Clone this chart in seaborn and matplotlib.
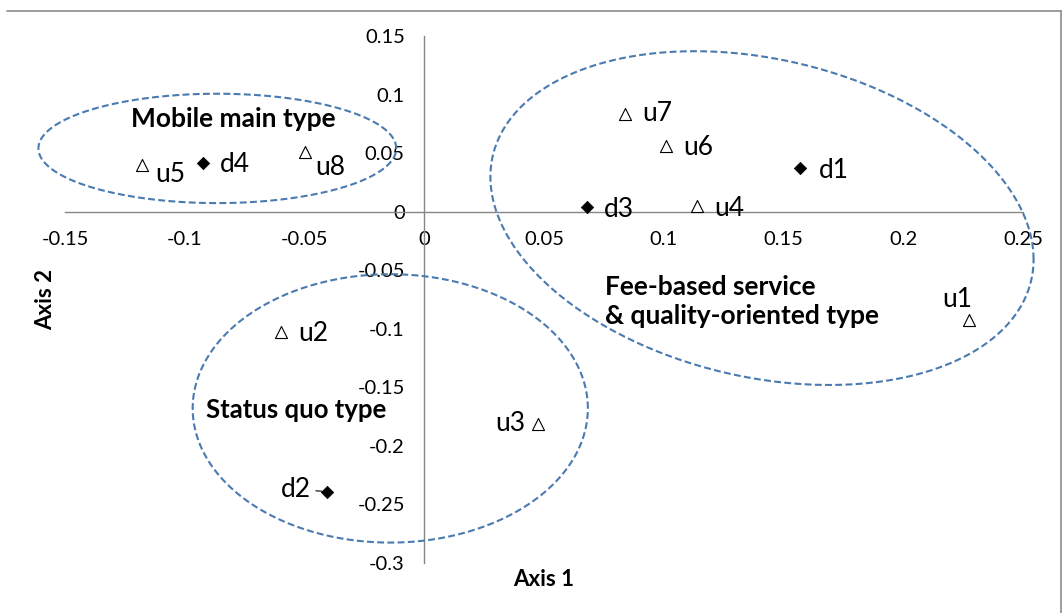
import numpy as np
import pandas as pd
import matplotlib.pyplot as plt
from matplotlib.lines import Line2D
import seaborn as sns

# ========================
# DATA
# ========================
point_names = ["u1", "u2", "u3", "u4", "u5", "u6", "u7", "u8",
               "d1", "d2", "d3", "d4"]
point_kind  = ["u"] * 8 + ["d"] * 4
axis1       = [0.2276, -0.0597, 0.0476, 0.114, -0.118, 0.101, 0.0839, -0.0497,
               0.157, -0.0405, 0.068, -0.0923]
axis2       = [-0.0928, -0.103, -0.181, 0.0048, 0.0396, 0.0557, 0.0838, 0.0507,
               0.0372, -0.239, 0.004, 0.0414]

x_ticks = [-0.15, -0.1, -0.05, 0, 0.05, 0.1, 0.15, 0.2, 0.25]
x_tick_labels = ["-0.15", "-0.1", "-0.05", "0", "0.05", "0.1", "0.15", "0.2", "0.25"]
y_ticks = [-0.3, -0.25, -0.2, -0.15, -0.1, -0.05, 0, 0.05, 0.1, 0.15]
y_tick_labels = ["-0.3", "-0.25", "-0.2", "-0.15", "-0.1", "-0.05", "0", "0.05", "0.1", "0.15"]

# cluster outlines: centre x, centre y, half width, half height, skew phase
group_names = ["Mobile main type", "Fee-based service\n& quality-oriented type", "Status quo type"]
group_cx    = [-0.0864, 0.141, -0.0142]
group_cy    = [0.054, -0.0055, -0.168]
group_rx    = [0.0747, 0.1134, 0.0825]
group_ry    = [0.0467, 0.1425, 0.1146]
group_phase = [0.0, -0.25, 0.0]
# where the group captions sit
caption_x   = [-0.0797, 0.0755, -0.0535]
caption_y   = [0.0795, -0.0767, -0.1690]
caption_ha  = ["center", "left", "center"]

# label placement per point (pixels) and alignment
label_dx = [-12, 17, -13, 17, 14, 17, 17, 10, 19, -16, 17, 17]
label_dy = [21, -1, 0, -2, -9, -1, 0, -15, -2, 2, -3, -1]
label_ha = ["center", "left", "right", "left", "left", "left", "left", "left",
            "left", "right", "left", "left"]

df = pd.DataFrame({"name": point_names, "kind": point_kind,
                   "axis1": axis1, "axis2": axis2})

# ========================
# STYLE
# ========================
sns.set_theme(style="white")
plt.rcParams["font.family"] = ["Lato", "DejaVu Sans"]
plt.rcParams["text.color"] = "black"

AXIS_GRAY = "#868686"
DASH_BLUE = "#4a7ab0"

fig = plt.figure(figsize=(10.64, 6.13), dpi=100)
ax = fig.add_axes([0.0611, 0.0816, 0.9004, 0.8597])

# ========================
# POINTS
# ========================
sns.scatterplot(data=df[df.kind == "u"], x="axis1", y="axis2", marker="^",
                s=75, color="white", edgecolor="black", linewidth=0.8,
                ax=ax, zorder=4, clip_on=False)
sns.scatterplot(data=df[df.kind == "d"], x="axis1", y="axis2", marker="D",
                s=40, color="black", edgecolor="black", linewidth=0.5,
                ax=ax, zorder=4, clip_on=False)

for i, name in enumerate(point_names):
    props = None
    if name == "d2":
        props = dict(arrowstyle="-", color="black", lw=0.8, shrinkA=1, shrinkB=4)
    ax.annotate(name, (axis1[i], axis2[i]), xytext=(label_dx[i], label_dy[i]),
                textcoords="offset pixels", ha=label_ha[i], va="center",
                fontsize=19, color="black", arrowprops=props, zorder=5)

# ========================
# CLUSTER OUTLINES + CAPTIONS
# ========================
t = np.linspace(0, 2 * np.pi, 400)
for i in range(len(group_names)):
    ex = group_cx[i] + group_rx[i] * np.cos(t)
    ey = group_cy[i] + group_ry[i] * np.sin(t + group_phase[i])
    ax.plot(ex, ey, color=DASH_BLUE, lw=1.5, ls=(0, (3.3, 1.6)),
            clip_on=False, zorder=3)
    ax.text(caption_x[i], caption_y[i], group_names[i], ha=caption_ha[i],
            va="center", fontsize=19 if i < 2 else 18.5, fontweight="bold",
            linespacing=1.25, color="black", zorder=5)

# ========================
# AXES THROUGH THE ORIGIN
# ========================
ax.set_xlim(-0.15, 0.25)
ax.set_ylim(-0.3, 0.15)
ax.spines["left"].set_position(("data", 0))
ax.spines["bottom"].set_position(("data", 0))
ax.spines["top"].set_visible(False)
ax.spines["right"].set_visible(False)
for sp in ("left", "bottom"):
    ax.spines[sp].set_color(AXIS_GRAY)
    ax.spines[sp].set_linewidth(1.0)
    ax.spines[sp].set_zorder(1)

ax.set_xticks(x_ticks)
ax.set_xticklabels(x_tick_labels)
ax.set_yticks(y_ticks)
ax.set_yticklabels(y_tick_labels)
ax.tick_params(axis="both", direction="out", length=5, width=0.8,
               color=AXIS_GRAY, labelsize=14.5, labelcolor="black")
ax.tick_params(axis="x", pad=9)
ax.tick_params(axis="y", pad=9)
ax.set_xlabel("")
ax.set_ylabel("")
ax.grid(False)
ax.patch.set_alpha(0)

ax.text(0.5, -0.032, "Axis 1", transform=ax.transAxes, ha="center", va="center",
        fontsize=16, fontweight="bold", color="black")
ax.text(-0.02, 0.5, "Axis 2", transform=ax.transAxes, ha="center", va="center",
        rotation=90, fontsize=16, fontweight="bold", color="black")

# chart-area border (top and right edges visible in the source)
fig.add_artist(Line2D([7 / 1064, 1061 / 1064], [1 - 11 / 613, 1 - 11 / 613],
                      transform=fig.transFigure, color="#8c8c8c", lw=1.2))
fig.add_artist(Line2D([1061 / 1064, 1061 / 1064], [1 - 11 / 613, 0],
                      transform=fig.transFigure, color="#8c8c8c", lw=1.2))

fig.savefig("out.png", dpi=100)
